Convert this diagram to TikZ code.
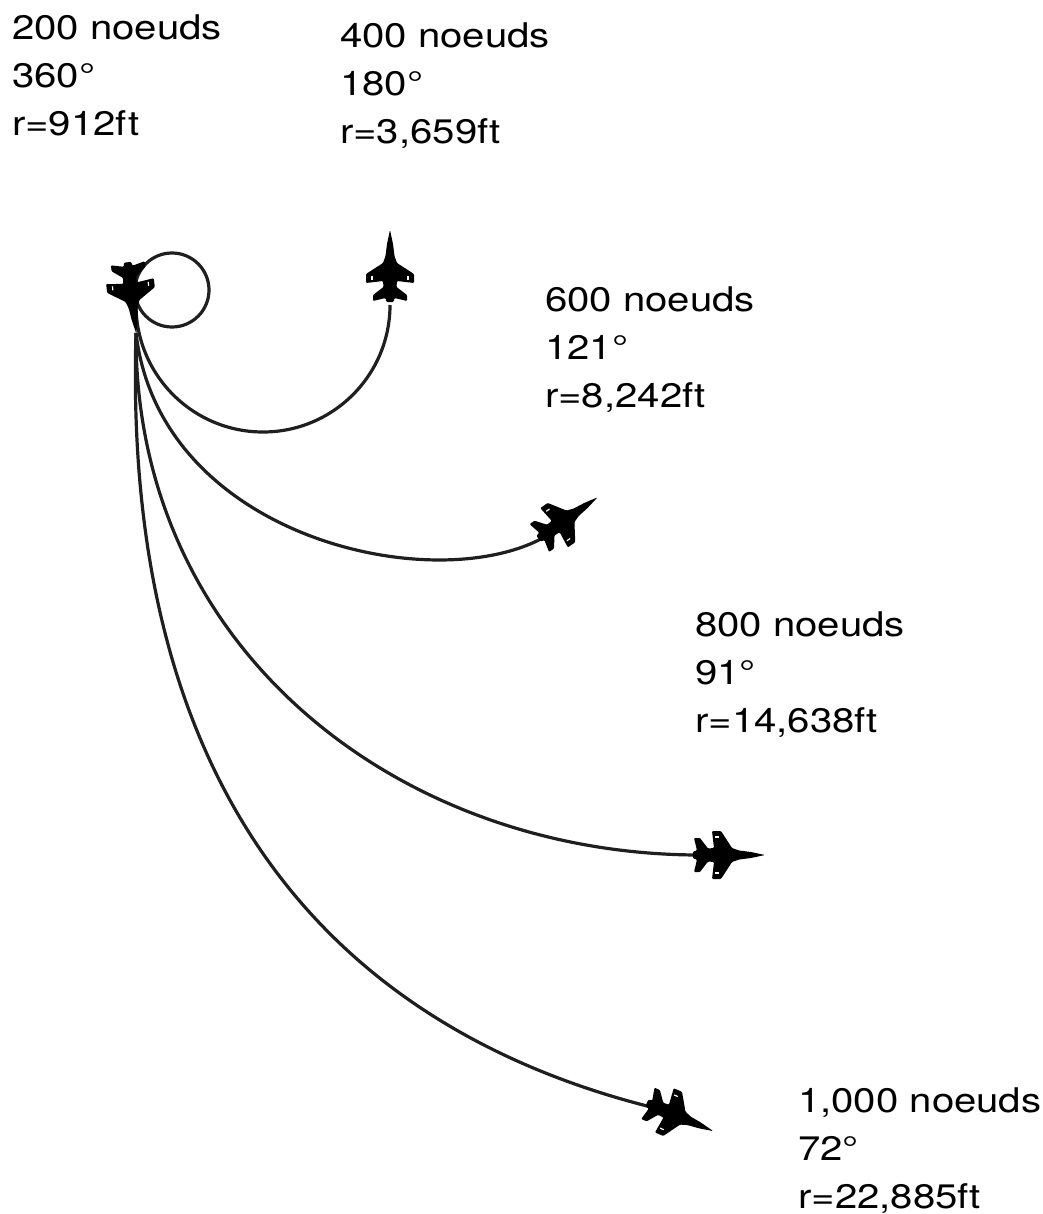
\documentclass[tikz,border=0pt]{standalone}
\usepackage{fontspec}
\setmainfont{TeX Gyre Heros}[FakeStretch=1.18]
\begin{document}
\begin{tikzpicture}[x=1pt,y=-1pt,
  track/.style={line width=3.2pt, draw=black!88},
  caption/.style={anchor=north west, inner sep=0pt, align=left,
    font=\fontsize{34}{48}\selectfont},
  jet/.pic={
    \fill[black, rounded corners=1pt]
      (36,0) -- (22,-3) -- (10,-4.5) -- (3,-7) -- (-8,-24) -- (-17,-24)
      -- (-15,-7) -- (-21,-6.5) -- (-29,-17) -- (-35,-17) -- (-32,-4.5)
      -- (-36,-3.5) -- (-36,3.5) -- (-32,4.5) -- (-35,17) -- (-29,17)
      -- (-21,6.5) -- (-15,7) -- (-17,24) -- (-8,24) -- (3,7) -- (10,4.5)
      -- (22,3) -- cycle;
    \draw[white, line width=1.2pt] (-10,-18) -- (-14,-18) (-10,18) -- (-14,18);
  }
]
\useasboundingbox (0,0) rectangle (1042,1214);

% aircraft positions
\coordinate (j1) at (132,298);
\coordinate (j2) at (390,266);
\coordinate (j3) at (568,518);
\coordinate (j4) at (729,855);
\coordinate (j5) at (680,1117);

% path end points
\coordinate (s)   at (136,333);
\coordinate (c1)  at (172,290);
\coordinate (a2)  at (136,305);
\coordinate (e3)  at (548,535);
\coordinate (e4)  at (700,855);
\coordinate (e5)  at (655,1108);

% turning tracks
\draw[track] (c1) circle[radius=37];
\draw[track] (a2) arc[start angle=180, end angle=0, radius=127];
\draw[track] (s) .. controls (160,540) and (440,600) .. (e3);
\draw[track] (s) .. controls (134,650) and (400,855) .. (e4);
\draw[track] (s) .. controls (122,800) and (340,1030) .. (e5);

% aircraft
\pic[rotate=-83] at (j1) {jet};
\pic[rotate=90]  at (j2) {jet};
\pic[rotate=35]  at (j3) {jet};
\pic[rotate=0]   at (j4) {jet};
\pic[rotate=-23] at (j5) {jet};

% captions
\node[caption] (t1) at (12,15)    {200 noeuds\\360°\\r=912ft};
\node[caption] (t2) at (340,23)   {400 noeuds\\180°\\r=3,659ft};
\node[caption] (t3) at (545,287)  {600 noeuds\\121°\\r=8,242ft};
\node[caption] (t4) at (695,612)  {800 noeuds\\91°\\r=14,638ft};
\node[caption] (t5) at (798,1087) {1,000 noeuds\\72°\\r=22,885ft};
\end{tikzpicture}
\end{document}
